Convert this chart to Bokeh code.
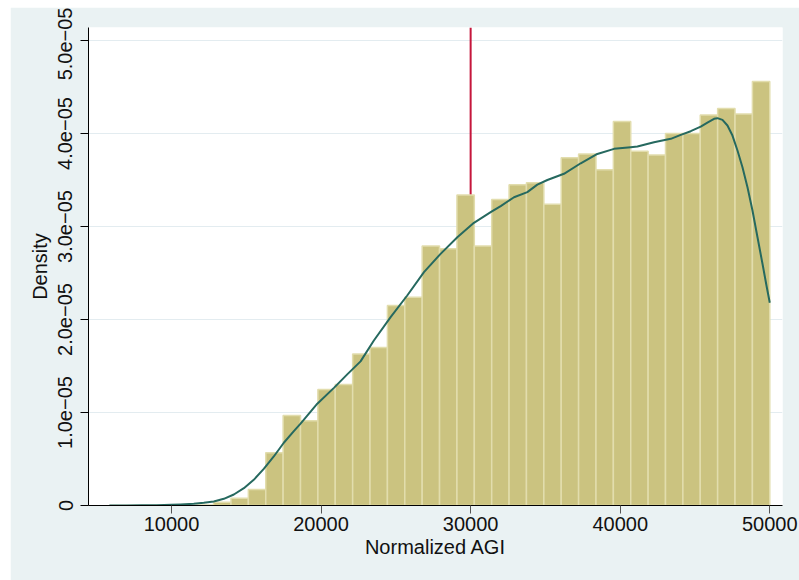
from bokeh.plotting import figure
from bokeh.layouts import column, row
from bokeh.models import Spacer, FixedTicker, CustomJSTickFormatter, ColumnDataSource, Range1d
from bokeh.embed import file_html
from bokeh.resources import INLINE
import numpy as np

# Histogram of normalized AGI: 38 equal-width bins between the sample min and max
agi_min = 5844
agi_max = 50000
n_bins = 38
bin_density = [
    0.0010e-5, 0.0, 0.0, 0.0, 0.0, 0.0050e-5,
    0.035e-5, 0.078e-5, 0.172e-5, 0.566e-5, 0.968e-5, 0.910e-5,
    1.247e-5, 1.300e-5, 1.630e-5, 1.700e-5, 2.150e-5, 2.240e-5,
    2.790e-5, 2.760e-5, 3.340e-5, 2.790e-5, 3.290e-5, 3.450e-5,
    3.470e-5, 3.240e-5, 3.740e-5, 3.780e-5, 3.610e-5, 4.130e-5,
    3.810e-5, 3.770e-5, 4.000e-5, 4.000e-5, 4.200e-5, 4.270e-5,
    4.210e-5, 4.560e-5,
]

# Kernel density estimate
kde_x = [5850, 7000, 8000, 9000, 10000, 10600, 11490, 12160, 12830, 13500,
         14170, 14840, 15500, 16170, 16840, 17510, 18180, 18630, 19750, 20860,
         21750, 22640, 23530, 24650, 25760, 26880, 27990, 29110, 30220, 31340,
         32010, 32900, 33790, 34460, 35130, 36240, 37360, 38470, 39590, 40700,
         41150, 42260, 43380, 44050, 44715, 45384, 45830, 46275, 46500, 46836,
         47170, 47505, 47840, 48174, 48509, 48843, 49178, 49512, 49800, 50000]
kde_y = [v * 1e-5 for v in [
    0.0004, 0.0008, 0.0015, 0.003, 0.007, 0.011, 0.018, 0.029, 0.043, 0.072,
    0.118, 0.186, 0.276, 0.394, 0.527, 0.675, 0.80, 0.88, 1.095, 1.265,
    1.41, 1.55, 1.774, 2.025, 2.258, 2.509, 2.706, 2.885, 3.04, 3.154,
    3.22, 3.315, 3.37, 3.45, 3.50, 3.567, 3.68, 3.78, 3.835, 3.853,
    3.86, 3.907, 3.943, 3.986, 4.025, 4.075, 4.118, 4.158, 4.165, 4.147,
    4.086, 3.978, 3.817, 3.638, 3.423, 3.172, 2.885, 2.599, 2.347, 2.18]]

cutoff = 30000
x_ticks = [10000, 20000, 30000, 40000, 50000]
y_ticks = [0, 1e-5, 2e-5, 3e-5, 4e-5, 5e-5]

FONT = "Liberation Sans"
BG = "#EAF2F3"

edges = np.linspace(agi_min, agi_max, n_bins + 1)
hist = ColumnDataSource(dict(left=edges[:-1], right=edges[1:], top=bin_density,
                             bottom=[0] * n_bins))

y_top = 5.14e-5
p = figure(width=789, height=573, output_backend="svg", toolbar_location=None,
           x_range=Range1d(4452, 50850), y_range=Range1d(0, y_top),
           background_fill_color="white", border_fill_color=BG,
           min_border_left=78, min_border_right=17, min_border_top=20,
           min_border_bottom=75)
p.outline_line_color = None

# reference line at the cutoff, drawn beneath the bars
p.segment(x0=[cutoff], y0=[0], x1=[cutoff], y1=[y_top], line_color="#C5163C",
          line_width=2)
p.quad(left="left", right="right", top="top", bottom="bottom", source=hist,
       fill_color="#CBC380", line_color="#E2DDAD", line_width=1.5)
p.line(kde_x, kde_y, line_color="#26695F", line_width=2, line_join="round")

p.xgrid.visible = False
p.ygrid.ticker = FixedTicker(ticks=y_ticks)
p.ygrid.grid_line_color = "#E3ECF0"
p.ygrid.grid_line_width = 1

for ax in (p.xaxis[0], p.yaxis[0]):
    ax.axis_line_color = "black"
    ax.axis_line_width = 1
    ax.major_tick_line_color = "black"
    ax.major_tick_out = 8
    ax.major_tick_in = 0
    ax.minor_tick_line_color = None
    ax.major_label_text_font = FONT
    ax.major_label_text_font_size = "20px"
    ax.major_label_text_color = "#111111"
    ax.axis_label_text_font = FONT
    ax.axis_label_text_font_size = "20px"
    ax.axis_label_text_font_style = "normal"
    ax.axis_label_text_color = "#111111"

p.xaxis.ticker = FixedTicker(ticks=x_ticks)
p.xaxis.axis_label = "Normalized AGI"
p.xaxis.major_label_standoff = 3
p.xaxis.axis_label_standoff = 2
p.xaxis.major_tick_line_color = "#555555"

p.yaxis.ticker = FixedTicker(ticks=y_ticks)
p.yaxis.formatter = CustomJSTickFormatter(
    code="if (tick == 0) { return '0'; } return (tick * 1e5).toFixed(1) + 'e\u221205';")
p.yaxis.major_label_orientation = "vertical"
p.yaxis.axis_label = "Density"
p.yaxis.major_label_standoff = 8
p.yaxis.axis_label_standoff = 5

layout = column(Spacer(height=7), row(Spacer(width=10), p))
open("out.html", "w").write(file_html(layout, INLINE))
